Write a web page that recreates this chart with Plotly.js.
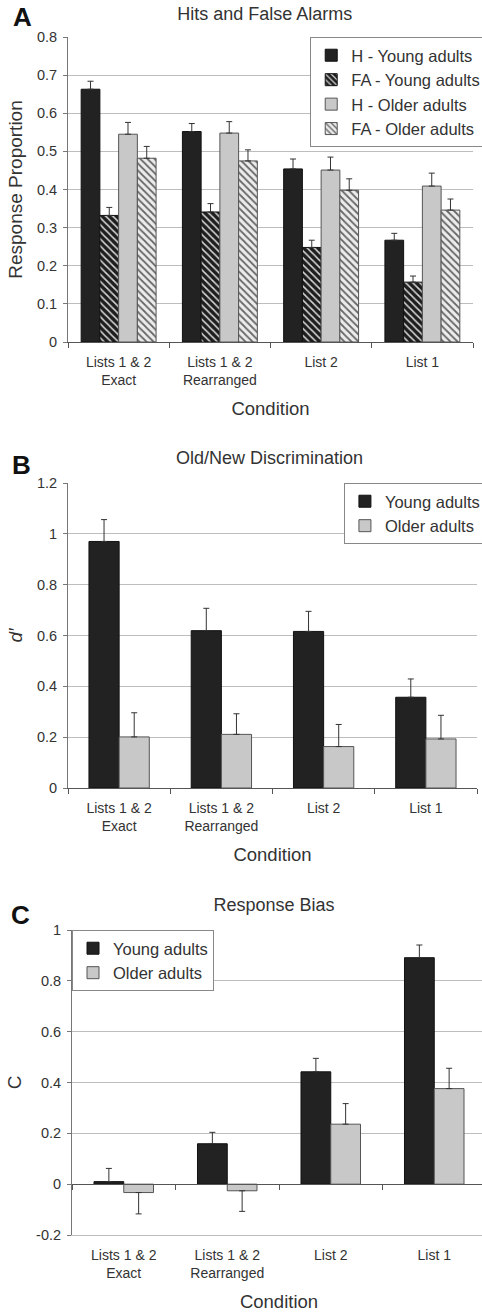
<!DOCTYPE html>
<html>
<head>
<meta charset="utf-8">
<script src="https://cdn.plot.ly/plotly-3.0.1.min.js"></script>
<style>
  html, body { margin: 0; padding: 0; background: #fff; overflow: hidden; }
  .panel { position: absolute; left: 0; width: 490px; }
</style>
</head>
<body>
<div id="pA" class="panel" style="top:0px;height:420px;"></div>
<div id="pB" class="panel" style="top:420px;height:460px;"></div>
<div id="pC" class="panel" style="top:880px;height:434px;"></div>
<script>
// ---------- data ----------
const conditions = ["Lists 1 & 2<br>Exact", "Lists 1 & 2<br>Rearranged", "List 2", "List 1"];

// Panel A: Hits and False Alarms (response proportion, upper error bar length)
const hitYoung = [0.663, 0.552, 0.454, 0.267];
const hitYoungErr = [0.021, 0.021, 0.026, 0.018];
const faYoung = [0.332, 0.341, 0.248, 0.157];
const faYoungErr = [0.021, 0.022, 0.019, 0.016];
const hitOlder = [0.545, 0.548, 0.451, 0.409];
const hitOlderErr = [0.031, 0.030, 0.034, 0.034];
const faOlder = [0.482, 0.475, 0.398, 0.346];
const faOlderErr = [0.031, 0.029, 0.030, 0.029];

// Panel B: d'
const dYoung = [0.970, 0.619, 0.616, 0.357];
const dYoungErr = [0.086, 0.088, 0.079, 0.072];
const dOlder = [0.201, 0.211, 0.163, 0.193];
const dOlderErr = [0.095, 0.081, 0.087, 0.093];

// Panel C: C (response bias)
const cYoung = [0.010, 0.159, 0.442, 0.891];
const cYoungErr = [0.052, 0.045, 0.053, 0.050];
const cOlder = [-0.033, -0.026, 0.236, 0.376];
const cOlderErr = [0.084, 0.081, 0.081, 0.080];

const cTickVals = [-0.2, 0, 0.2, 0.4, 0.6, 0.8, 1];
const cTickText = ["-0.2", "0", "0.2", "0.4", "0.6", "0.8", "1"];

// ---------- styles ----------
const FONT = "Liberation Sans, Arial, sans-serif";
const TXT = "#333";
const DARK = "#222222";
const LIGHT = "#c8c8c8";
const GRID = "#bdbdbd";

function errUp(arr) {
  return {type: "data", symmetric: false, array: arr, arrayminus: arr.map(() => 0),
          color: "#333", thickness: 1, width: 3};
}
function errAway(vals, arr) {
  return {type: "data", symmetric: false,
          array: vals.map((v, i) => v >= 0 ? arr[i] : 0),
          arrayminus: vals.map((v, i) => v < 0 ? arr[i] : 0),
          color: "#333", thickness: 1, width: 3};
}
function bar(name, y, err, marker, legend) {
  return {type: "bar", name: name, x: conditions, y: y, error_y: err,
          marker: marker, legend: legend || "legend", hoverinfo: "skip"};
}
const mDark = {color: DARK, line: {color: "#111", width: 1}};
const mLight = {color: LIGHT, line: {color: "#555", width: 1}};
const mHatchDark = {color: DARK, line: {color: "#111", width: 1},
  pattern: {shape: "\\", bgcolor: "#1e1e1e", fgcolor: "#d8d8d8", size: 5, solidity: 0.3}};
const mHatchLight = {color: "#e6e6e6", line: {color: "#555", width: 1},
  pattern: {shape: "\\", bgcolor: "#ececec", fgcolor: "#666", size: 5, solidity: 0.35}};

function yAxis(range, dtick, title, extra) {
  return Object.assign({
    range: range, dtick: dtick, showline: true, linecolor: "#777", linewidth: 1,
    ticks: "outside", ticklen: 4, tickcolor: "#777", ticklabelstandoff: 3,
    showgrid: true, gridcolor: GRID, gridwidth: 1, zeroline: false,
    tickfont: {family: FONT, size: 14.5, color: TXT},
    title: {text: title, font: {family: FONT, size: 19, color: TXT}, standoff: 9},
    fixedrange: true
  }, extra || {});
}
function xAxis(extra) {
  return Object.assign({
    type: "category", range: [-0.5, 3.5], tickson: "boundaries",
    showline: true, linecolor: "#555", linewidth: 1,
    ticks: "outside", ticklen: 5, tickcolor: "#555", ticklabelstandoff: 7,
    tickfont: {family: FONT, size: 14, color: TXT}, showgrid: false,
    title: {text: "Condition", font: {family: FONT, size: 18.5, color: TXT}, standoff: 15},
    fixedrange: true
  }, extra || {});
}
function legendBox(x, y, size) {
  return {x: x, y: y, xanchor: "left", yanchor: "top", bgcolor: "#fff",
          bordercolor: "#888", borderwidth: 1, font: {family: FONT, size: size, color: TXT},
          tracegroupgap: 0, itemclick: false, itemdoubleclick: false};
}
function letter(t, x, y) {
  return {text: "<b>" + t + "</b>", xref: "paper", yref: "paper", x: x, y: y,
          xanchor: "center", yanchor: "middle", showarrow: false,
          font: {family: FONT, size: 26, color: "#111"}};
}
const cfg = {displayModeBar: false, staticPlot: true};

// ---------- Panel A ----------
(function () {
  const H = 420, W = 490, l = 68, r = 4, t = 37, b = 78;
  const pw = W - l - r, ph = H - t - b;
  const data = [
    bar("H - Young adults", hitYoung, errUp(hitYoungErr), mDark),
    bar("FA - Young adults", faYoung, errUp(faYoungErr), mHatchDark),
    bar("H - Older adults", hitOlder, errUp(hitOlderErr), mLight),
    bar("FA - Older adults", faOlder, errUp(faOlderErr), mHatchLight)
  ];
  const layout = {
    width: W, height: H, margin: {l: l, r: r, t: t, b: b},
    paper_bgcolor: "#fff", plot_bgcolor: "#fff",
    barmode: "group", bargap: 0.26, bargroupgap: 0,
    font: {family: FONT, color: TXT},
    title: {text: "Hits and False Alarms", font: {family: FONT, size: 18, color: TXT},
            xref: "paper", x: (271 - l) / pw, xanchor: "center",
            yref: "container", y: 1 - 14 / H, yanchor: "middle"},
    xaxis: xAxis(),
    yaxis: yAxis([0, 0.8], 0.1, "Response Proportion"),
    showlegend: true,
    legend: legendBox((318 - l) / pw, 1, 16.5),
    annotations: [letter("A", (21 - l) / pw, 1 + (t - 17) / ph)]
  };
  Plotly.newPlot("pA", data, layout, cfg);
})();

// ---------- Panel B ----------
(function () {
  const H = 460, W = 490, l = 68, r = 4, t = 63, b = 92;
  const pw = W - l - r, ph = H - t - b;
  const data = [
    bar("Young adults", dYoung, errUp(dYoungErr), mDark),
    bar("Older adults", dOlder, errUp(dOlderErr), mLight)
  ];
  const layout = {
    width: W, height: H, margin: {l: l, r: r, t: t, b: b},
    paper_bgcolor: "#fff", plot_bgcolor: "#fff",
    barmode: "group", bargap: 0.41, bargroupgap: 0,
    font: {family: FONT, color: TXT},
    title: {text: "Old/New Discrimination", font: {family: FONT, size: 18, color: TXT},
            xref: "paper", x: (274 - l) / pw, xanchor: "center",
            yref: "container", y: 1 - 38 / H, yanchor: "middle"},
    xaxis: xAxis(),
    yaxis: yAxis([0, 1.2], 0.2, "<i>d′</i>"),
    showlegend: true,
    legend: legendBox((350 - l) / pw, 1, 16.5),
    annotations: [letter("B", (20 - l) / pw, 1 + (t - 45) / ph)]
  };
  Plotly.newPlot("pB", data, layout, cfg);
})();

// ---------- Panel C ----------
(function () {
  const H = 434, W = 490, l = 72, r = 4, t = 50, b = 79;
  const pw = W - l - r, ph = H - t - b;
  const yr = [-0.2, 1];
  const data = [
    bar("Young adults", cYoung, errAway(cYoung, cYoungErr), mDark),
    bar("Older adults", cOlder, errAway(cOlder, cOlderErr), mLight),
    {type: "scatter", mode: "markers", x: [], y: [], xaxis: "x2", yaxis: "y",
     showlegend: false, hoverinfo: "skip"}
  ];
  const layout = {
    width: W, height: H, margin: {l: l, r: r, t: t, b: b},
    paper_bgcolor: "#fff", plot_bgcolor: "#fff",
    barmode: "group", bargap: 0.425, bargroupgap: 0,
    font: {family: FONT, color: TXT},
    title: {text: "Response Bias", font: {family: FONT, size: 18, color: TXT},
            xref: "paper", x: (274 - l) / pw, xanchor: "center",
            yref: "container", y: 1 - 25 / H, yanchor: "middle"},
    xaxis: xAxis({showline: true, linecolor: GRID, ticks: ""}),
    xaxis2: {overlaying: "x", anchor: "free", position: (0 - yr[0]) / (yr[1] - yr[0]),
             type: "linear", range: [-0.5, 3.5], tickvals: [-0.5, 0.5, 1.5, 2.5, 3.5],
             showticklabels: false, showline: true, linecolor: "#555", linewidth: 1,
             ticks: "outside", ticklen: 5, tickcolor: "#555", showgrid: false,
             zeroline: false, fixedrange: true},
    yaxis: yAxis(yr, 0.2, "C", {tickmode: "array", tickvals: cTickVals, ticktext: cTickText}),
    showlegend: true,
    legend: legendBox(0.0, 1, 16.5),
    annotations: [letter("C", (20 - l) / pw, 1 + (t - 35) / ph)]
  };
  Plotly.newPlot("pC", data, layout, cfg);
})();
</script>
</body>
</html>
